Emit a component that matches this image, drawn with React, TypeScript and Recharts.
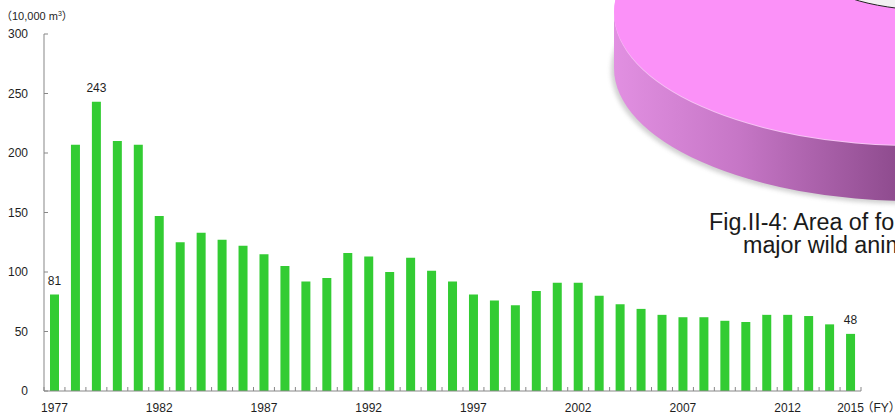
import React from 'react';
import { BarChart, Bar, XAxis, YAxis, LabelList } from 'recharts';

// fiscal years on the category axis
const years = [
  '1977', '1978', '1979', '1980', '1981', '1982', '1983', '1984', '1985', '1986',
  '1987', '1988', '1989', '1990', '1991', '1992', '1993', '1994', '1995', '1996',
  '1997', '1998', '1999', '2000', '2001', '2002', '2003', '2004', '2005', '2006',
  '2007', '2008', '2009', '2010', '2011', '2012', '2013', '2014', '2015',
];

// volume, 10,000 m3
const volumes = [
  81, 207, 243, 210, 207, 147, 125, 133, 127, 122,
  115, 105, 92, 95, 116, 113, 100, 112, 101, 92,
  81, 76, 72, 84, 91, 91, 80, 73, 69, 64,
  62, 62, 59, 58, 64, 64, 63, 56, 48,
];

const yTicks = [0, 50, 100, 150, 200, 250, 300];
const shownYears = ['1977', '1982', '1987', '1992', '1997', '2002', '2007', '2012', '2015'];
const taggedYears = ['1977', '1979', '2015'];

const data = years.map((year, i) => ({
  year,
  volume: volumes[i],
  tag: taggedYears.includes(year) ? volumes[i] : null,
}));

const W = 895;
const H = 416;
const PLOT_LEFT = 44;
const PLOT_RIGHT = 861;
const band = (PLOT_RIGHT - PLOT_LEFT) / years.length;
const AXIS = '#878787';
const TEXT = '#1e1e1e';
const FONT = '"Liberation Sans", Arial, "Noto Sans CJK JP", sans-serif';

const XTick = (props: any) => {
  const { x, y, payload } = props;
  const i = years.indexOf(payload.value);
  return (
    <g>
      <line x1={x - band / 2} x2={x - band / 2} y1={y} y2={y - 4} stroke={AXIS} />
      {i === years.length - 1 && (
        <line x1={x + band / 2} x2={x + band / 2} y1={y} y2={y - 4} stroke={AXIS} />
      )}
      {shownYears.includes(payload.value) && (
        <text x={x} y={y + 21} textAnchor="middle" fontSize={12} fill={TEXT} fontFamily={FONT}>
          {payload.value}
        </text>
      )}
    </g>
  );
};

const YTick = (props: any) => {
  const { x, y, payload } = props;
  return (
    <g>
      <line x1={x} x2={x + 4} y1={y} y2={y} stroke={AXIS} />
      <text x={x - 16} y={y + 4.3} textAnchor="end" fontSize={12} fill={TEXT} fontFamily={FONT}>
        {payload.value}
      </text>
    </g>
  );
};

// piece of the neighbouring figure that sits in the top right corner
const DISC = { cx: 914, cy: 12, rx: 300, ry: 133, h: 56 };

const Backdrop = () => (
  <svg width={W} height={H} style={{ position: 'absolute', left: 0, top: 0 }}>
    <defs>
      <linearGradient id="discSide" gradientUnits="userSpaceOnUse" x1={612} y1={0} x2={895} y2={0}>
        <stop offset="0" stopColor="#e290e2" />
        <stop offset="0.45" stopColor="#c676c6" />
        <stop offset="1" stopColor="#8f4c8f" />
      </linearGradient>
      <filter id="soft" x="-10%" y="-10%" width="120%" height="120%">
        <feGaussianBlur stdDeviation="2" />
      </filter>
    </defs>
    <ellipse
      cx={DISC.cx - 2}
      cy={DISC.cy + DISC.h + 2}
      rx={DISC.rx + 1}
      ry={DISC.ry + 1}
      fill="#9a9a9a"
      opacity={0.45}
      filter="url(#soft)"
    />
    <ellipse cx={DISC.cx} cy={DISC.cy + DISC.h} rx={DISC.rx} ry={DISC.ry} fill="url(#discSide)" />
    <rect x={DISC.cx - DISC.rx} y={DISC.cy} width={DISC.rx * 2} height={DISC.h} fill="url(#discSide)" />
    <ellipse cx={DISC.cx} cy={DISC.cy + 1} rx={DISC.rx} ry={DISC.ry} fill="#f7c4f5" />
    <ellipse cx={DISC.cx} cy={DISC.cy} rx={DISC.rx} ry={DISC.ry} fill="#fb91f8" />
    <ellipse cx={960} cy={-18} rx={130} ry={30} fill="#f2f2f2" stroke="#222" strokeWidth={1} />
    <text x={1} y={20} fontSize={11} fill={TEXT} fontFamily={FONT}>
      （10,000 m<tspan dy={-4} fontSize={7}>3</tspan><tspan dy={4}>）</tspan>
    </text>
    <text x={861.5} y={412} fontSize={12} fill={TEXT} fontFamily={FONT}>（FY）</text>
    <text x={709} y={230} fontSize={23.3} fill="#1a1a1a" fontFamily={FONT}>
      Fig.II-4: Area of forest damage caused by
    </text>
    <text x={743} y={253} fontSize={23.3} fill="#1a1a1a" fontFamily={FONT}>
      major wild animals
    </text>
  </svg>
);

const App = () => {
  return (
    <div style={{ position: 'absolute', left: 0, top: 0, width: W, height: H, overflow: 'hidden', background: '#fff' }}>
      <Backdrop />
      <div style={{ position: 'absolute', left: 0, top: 0 }}>
        <BarChart width={W} height={H} data={data} margin={{ top: 34, right: W - PLOT_RIGHT, bottom: 0, left: 0 }}>
          <XAxis
            dataKey="year"
            height={25}
            interval={0}
            tickSize={0}
            tickMargin={0}
            tickLine={false}
            axisLine={{ stroke: AXIS }}
            tick={<XTick />}
          />
          <YAxis
            type="number"
            domain={[0, 300]}
            ticks={yTicks}
            width={PLOT_LEFT}
            tickSize={0}
            tickMargin={0}
            tickLine={false}
            axisLine={{ stroke: AXIS }}
            tick={<YTick />}
          />
          <Bar dataKey="volume" fill="#33cc33" barSize={9} isAnimationActive={false}>
            <LabelList dataKey="tag" position="top" offset={10} fontSize={12} fill={TEXT} fontFamily={FONT} />
          </Bar>
        </BarChart>
      </div>
    </div>
  );
};

export default App;
